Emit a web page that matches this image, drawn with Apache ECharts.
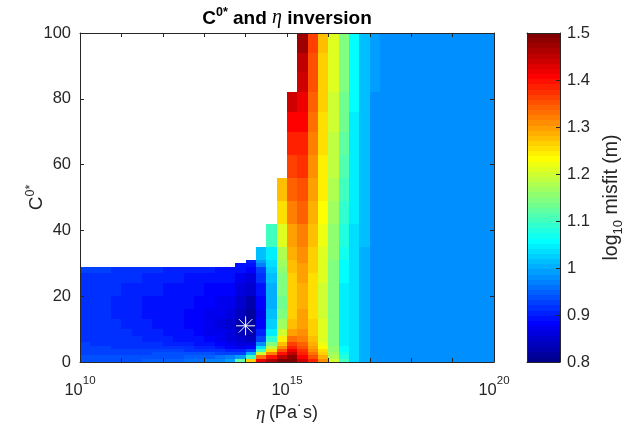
<!DOCTYPE html>
<html>
<head>
<meta charset="utf-8">
<title>C0* and eta inversion</title>
<script src="https://cdn.jsdelivr.net/npm/echarts@6/dist/echarts.min.js"></script>
<style>
  html, body { margin: 0; padding: 0; background: #ffffff; }
  #chart { width: 638px; height: 429px; }
</style>
</head>
<body>
<div id="chart"></div>
<script>
// Column edges: log10 of viscosity eta (Pa s), quarter-decade steps
const etaEdges = [
  10, 10.25, 10.5, 10.75, 11, 11.25, 11.5, 11.75, 12, 12.25, 12.5, 12.75,
  13, 13.25, 13.5, 13.75, 14, 14.25, 14.5, 14.75, 15, 15.25, 15.5, 15.75,
  16, 16.25, 16.5, 16.75, 17, 17.25, 17.5, 17.75, 18, 18.25, 18.5, 18.75,
  19, 19.25, 19.5, 19.75, 20
];

// Row edges in C0*
const cEdges = [0, 1, 2, 3, 4, 5, 6, 8, 10, 13, 16, 20, 24, 27, 29, 30, 31, 35, 42, 49, 56, 63, 70, 76, 82, 88, 94, 100];

// log10 misfit, one array per eta column, bottom row first.
// Rows past the end of an array have no admissible model (left blank).
const misfitLow = [
  [0.94, 0.935, 0.93, 0.93, 0.925, 0.925, 0.92, 0.92, 0.915, 0.915, 0.915, 0.915, 0.92, 0.925],
  [0.94, 0.935, 0.93, 0.93, 0.925, 0.92, 0.92, 0.915, 0.915, 0.912, 0.912, 0.915, 0.92, 0.925],
  [0.94, 0.935, 0.93, 0.925, 0.925, 0.92, 0.915, 0.915, 0.912, 0.91, 0.91, 0.912, 0.918, 0.922],
  [0.94, 0.935, 0.93, 0.925, 0.92, 0.92, 0.915, 0.912, 0.91, 0.908, 0.908, 0.91, 0.915, 0.92],
  [0.94, 0.935, 0.93, 0.925, 0.92, 0.915, 0.912, 0.91, 0.905, 0.905, 0.905, 0.908, 0.912, 0.918],
  [0.94, 0.935, 0.93, 0.925, 0.92, 0.915, 0.91, 0.905, 0.903, 0.9, 0.9, 0.905, 0.91, 0.915],
  [0.945, 0.94, 0.93, 0.925, 0.92, 0.912, 0.908, 0.903, 0.9, 0.898, 0.898, 0.902, 0.908, 0.912],
  [0.945, 0.94, 0.932, 0.925, 0.918, 0.91, 0.905, 0.9, 0.897, 0.895, 0.895, 0.9, 0.905, 0.91],
  [0.95, 0.94, 0.932, 0.925, 0.915, 0.908, 0.902, 0.897, 0.893, 0.892, 0.893, 0.897, 0.903, 0.908],
  [0.95, 0.942, 0.932, 0.922, 0.912, 0.905, 0.898, 0.893, 0.89, 0.89, 0.89, 0.895, 0.9, 0.906],
  [0.955, 0.945, 0.932, 0.92, 0.91, 0.9, 0.893, 0.888, 0.886, 0.886, 0.888, 0.893, 0.898, 0.904],
  [0.96, 0.948, 0.932, 0.918, 0.905, 0.895, 0.888, 0.883, 0.88, 0.882, 0.885, 0.89, 0.896, 0.902],
  [0.965, 0.95, 0.932, 0.915, 0.9, 0.89, 0.882, 0.876, 0.874, 0.876, 0.88, 0.887, 0.894, 0.9],
  [0.975, 0.955, 0.93, 0.91, 0.895, 0.883, 0.873, 0.866, 0.865, 0.868, 0.875, 0.884, 0.892, 0.898],
  [0.995, 0.965, 0.93, 0.905, 0.887, 0.873, 0.862, 0.855, 0.853, 0.858, 0.868, 0.88, 0.89, 0.896]
];

const misfitMid = [
  [1.12, 0.99, 0.93, 0.9, 0.875, 0.86, 0.845, 0.835, 0.83, 0.835, 0.845, 0.86, 0.875, 0.888, 0.895],
  [1.27, 1.1, 1.0, 0.93, 0.885, 0.86, 0.84, 0.825, 0.815, 0.82, 0.83, 0.845, 0.865, 0.88, 0.89, 0.9],
  [1.42, 1.33, 1.2, 1.1, 1.03, 0.98, 0.93, 0.9, 0.88, 0.875, 0.88, 0.895, 0.91, 0.93, 0.975, 0.99, 1.01],
  [1.46, 1.4, 1.32, 1.25, 1.19, 1.14, 1.09, 1.05, 1.025, 1.01, 1.0, 1.0, 1.01, 1.02, 1.03, 1.035, 1.05, 1.1],
  [1.49, 1.45, 1.4, 1.35, 1.31, 1.28, 1.24, 1.2, 1.17, 1.14, 1.13, 1.14, 1.15, 1.16, 1.165, 1.17, 1.18, 1.21, 1.25, 1.28],
  [1.5, 1.48, 1.45, 1.42, 1.39, 1.36, 1.33, 1.3, 1.28, 1.27, 1.265, 1.265, 1.27, 1.275, 1.28, 1.28, 1.29, 1.3, 1.32, 1.34, 1.36, 1.385, 1.41, 1.435],
  [1.44, 1.41, 1.39, 1.37, 1.35, 1.34, 1.32, 1.31, 1.3, 1.295, 1.29, 1.29, 1.295, 1.3, 1.3, 1.305, 1.31, 1.325, 1.34, 1.355, 1.37, 1.385, 1.405, 1.42, 1.44, 1.455, 1.47],
  [1.38, 1.35, 1.33, 1.31, 1.3, 1.29, 1.275, 1.265, 1.26, 1.255, 1.25, 1.25, 1.255, 1.26, 1.26, 1.262, 1.265, 1.275, 1.29, 1.3, 1.31, 1.325, 1.335, 1.345, 1.35, 1.355, 1.36],
  [1.31, 1.29, 1.265, 1.25, 1.235, 1.225, 1.215, 1.21, 1.205, 1.2, 1.2, 1.2, 1.205, 1.205, 1.21, 1.21, 1.212, 1.22, 1.23, 1.24, 1.245, 1.25, 1.255, 1.26, 1.265, 1.27, 1.275],
  [1.2, 1.18, 1.17, 1.16, 1.155, 1.15, 1.145, 1.142, 1.14, 1.14, 1.14, 1.142, 1.145, 1.148, 1.15, 1.15, 1.155, 1.16, 1.17, 1.178, 1.185, 1.19, 1.195, 1.2, 1.205, 1.21, 1.215],
  [1.1, 1.08, 1.07, 1.06, 1.055, 1.05, 1.048, 1.046, 1.045, 1.045, 1.048, 1.05, 1.055, 1.058, 1.06, 1.06, 1.065, 1.075, 1.09, 1.1, 1.11, 1.12, 1.13, 1.135, 1.14, 1.145, 1.15],
  [1.035, 1.03, 1.03, 1.03, 1.03, 1.03, 1.03, 1.03, 1.03, 1.03, 1.032, 1.033, 1.035, 1.036, 1.037, 1.037, 1.038, 1.04, 1.042, 1.045, 1.046, 1.048, 1.05, 1.052, 1.055, 1.058, 1.062],
  [1.0, 1.0, 1.0, 1.0, 1.0, 1.0, 1.0, 1.0, 1.0, 1.0, 1.0, 1.002, 1.003, 1.004, 1.005, 1.005, 1.006, 1.008, 1.008, 1.01, 1.01, 1.012, 1.014, 1.015, 1.015, 1.016, 1.017],
  [0.985, 0.985, 0.985, 0.985, 0.985, 0.985, 0.985, 0.985, 0.985, 0.985, 0.985, 0.985, 0.985, 0.985, 0.985, 0.985, 0.985, 0.985, 0.985, 0.985, 0.985, 0.985, 0.985, 0.985, 0.99, 0.99, 0.99]
];

// High-viscosity columns: misfit no longer changes with C0*
const flatColumn = [0.98, 0.98, 0.98, 0.98, 0.98, 0.98, 0.98, 0.98, 0.98, 0.98, 0.98, 0.98, 0.98, 0.98,
                    0.98, 0.98, 0.98, 0.98, 0.98, 0.98, 0.98, 0.98, 0.98, 0.98, 0.98, 0.98, 0.98];
const misfitHigh = [flatColumn, flatColumn, flatColumn, flatColumn, flatColumn, flatColumn,
                    flatColumn, flatColumn, flatColumn, flatColumn, flatColumn];

// Best-fitting model
const bestEta = 14.0;
const bestC = 11;

// Colour scale limits and ticks
const cMin = 0.8, cMax = 1.5, nColors = 64;
const yTicks = { min: 0, max: 100, step: 20 };
const xTicks = { min: 10, max: 20, step: 1, labelled: [10, 15, 20] };
const cbTicks = { min: 0.8, max: 1.5, step: 0.1 };

// ---- colour map (64-level jet) ----
function jetRGB(i) { // i: 1..64
  const u = k => (k < 1 || k > 47) ? 0 : (k <= 16 ? k / 16 : (k <= 31 ? 1 : (48 - k) / 16));
  return [u(i - 24), u(i - 8), u(i + 8)];
}
function jetColor(i) {
  const c = jetRGB(i).map(x => Math.round(x * 255));
  return 'rgb(' + c[0] + ',' + c[1] + ',' + c[2] + ')';
}
function levelOf(v) {
  const k = Math.floor((v - cMin) / (cMax - cMin) * nColors);
  return Math.max(0, Math.min(nColors - 1, k)) + 1;
}

// ---- cells ----
const columns = misfitLow.concat(misfitMid, misfitHigh);
const cells = [];
columns.forEach((col, j) => {
  col.forEach((v, b) => {
    cells.push([etaEdges[j], etaEdges[j + 1], cEdges[b], cEdges[b + 1], v]);
  });
});

const bar = [];
for (let i = 1; i <= nColors; i++) {
  const lo = cMin + (i - 1) * (cMax - cMin) / nColors;
  const hi = cMin + i * (cMax - cMin) / nColors;
  bar.push([0, 1, lo, hi, i]);
}

const AX = '#262626';
const SANS = '"Liberation Sans", Arial, Helvetica, sans-serif';
const SERIF = '"Liberation Serif", "DejaVu Serif", serif';

function rectItem(api, fill) {
  const p0 = api.coord([api.value(0), api.value(3)]);
  const p1 = api.coord([api.value(1), api.value(2)]);
  const x = Math.round(p0[0]), y = Math.round(p0[1]);
  return {
    type: 'rect',
    shape: { x: x, y: y, width: Math.round(p1[0]) - x, height: Math.round(p1[1]) - y },
    style: { fill: fill }
  };
}

const lineCommon = { show: true, onZero: false, lineStyle: { color: AX, width: 1 } };
const tickCommon = { show: true, inside: true, length: 4, lineStyle: { color: AX, width: 1 } };

const chart = echarts.init(document.getElementById('chart'), null, { renderer: 'canvas' });

chart.setOption({
  animation: false,
  backgroundColor: '#ffffff',
  textStyle: { fontFamily: SANS },
  grid: [
    { left: 80, top: 33, width: 414, height: 329 },
    { left: 527, top: 33, width: 33, height: 329 }
  ],
  graphic: [{
    type: 'text',
    x: 287, y: 17,
    style: {
      text: '{b|C}{sup|0*}{b| and }{it|η}{b| inversion}',
      textAlign: 'center',
      textVerticalAlign: 'middle',
      rich: {
        b: { fontFamily: SANS, fontWeight: 'bold', fontSize: 19, lineHeight: 22, verticalAlign: 'bottom', fill: '#000' },
        sup: { fontFamily: SANS, fontWeight: 'bold', fontSize: 12.5, lineHeight: 12, verticalAlign: 'top', fill: '#000' },
        it: { fontFamily: SERIF, fontStyle: 'italic', fontSize: 20, lineHeight: 22, verticalAlign: 'bottom', fill: '#000' }
      }
    }
  }],
  xAxis: [
    {
      gridIndex: 0, type: 'value', position: 'bottom', z: 10,
      min: xTicks.min, max: xTicks.max, interval: xTicks.step,
      axisLine: lineCommon, axisTick: tickCommon, splitLine: { show: false },
      axisLabel: {
        margin: 13,
        formatter: v => xTicks.labelled.indexOf(Math.round(v)) >= 0 ? '{b|10}{s|' + Math.round(v) + '}' : '',
        rich: {
          b: { fontFamily: SANS, fontSize: 16.5, lineHeight: 24, verticalAlign: 'bottom', color: AX },
          s: { fontFamily: SANS, fontSize: 11.5, lineHeight: 12, verticalAlign: 'top', color: AX }
        }
      },
      name: '{it|η} {b|(Pa˙s)}',
      nameLocation: 'middle', nameGap: 42, nameMoveOverlap: false,
      nameTextStyle: {
        rich: {
          it: { fontFamily: SERIF, fontStyle: 'italic', fontSize: 19, color: AX },
          b: { fontFamily: SANS, fontSize: 18, color: AX }
        }
      }
    },
    {
      gridIndex: 0, type: 'value', position: 'top', z: 10,
      min: xTicks.min, max: xTicks.max, interval: xTicks.step,
      axisLine: lineCommon, axisTick: tickCommon, axisLabel: { show: false }, splitLine: { show: false }
    },
    {
      gridIndex: 1, type: 'value', position: 'bottom', z: 10, min: 0, max: 1,
      axisLine: lineCommon, axisTick: { show: false }, axisLabel: { show: false }, splitLine: { show: false }
    },
    {
      gridIndex: 1, type: 'value', position: 'top', z: 10, min: 0, max: 1,
      axisLine: lineCommon, axisTick: { show: false }, axisLabel: { show: false }, splitLine: { show: false }
    }
  ],
  yAxis: [
    {
      gridIndex: 0, type: 'value', position: 'left', z: 10,
      min: yTicks.min, max: yTicks.max, interval: yTicks.step,
      axisLine: lineCommon, axisTick: tickCommon, splitLine: { show: false },
      axisLabel: { margin: 9, fontFamily: SANS, fontSize: 16.5, color: AX },
      name: '{b|C}{s|0*}',
      nameLocation: 'middle', nameGap: 34, nameRotate: 90, nameMoveOverlap: false,
      nameTextStyle: {
        rich: {
          b: { fontFamily: SANS, fontSize: 19, lineHeight: 22, verticalAlign: 'bottom', color: AX },
          s: { fontFamily: SANS, fontSize: 12.5, lineHeight: 12, verticalAlign: 'top', color: AX }
        }
      }
    },
    {
      gridIndex: 0, type: 'value', position: 'right', z: 10,
      min: yTicks.min, max: yTicks.max, interval: yTicks.step,
      axisLine: lineCommon, axisTick: tickCommon, axisLabel: { show: false }, splitLine: { show: false }
    },
    {
      gridIndex: 1, type: 'value', position: 'right', z: 10,
      min: cbTicks.min, max: cbTicks.max, interval: cbTicks.step,
      axisLine: lineCommon, axisTick: tickCommon, splitLine: { show: false },
      axisLabel: {
        margin: 7, fontFamily: SANS, fontSize: 16.5, color: AX,
        formatter: v => String(Math.round(v * 10) / 10)
      },
      name: '{b|log}{sub|10}{b| misfit (m)}',
      nameLocation: 'middle', nameGap: 42, nameRotate: 90, nameMoveOverlap: false,
      nameTextStyle: {
        rich: {
          b: { fontFamily: SANS, fontSize: 19.5, lineHeight: 23, verticalAlign: 'top', color: AX },
          sub: { fontFamily: SANS, fontSize: 13, lineHeight: 12, verticalAlign: 'bottom', color: AX }
        }
      }
    },
    {
      gridIndex: 1, type: 'value', position: 'left', z: 10,
      min: cbTicks.min, max: cbTicks.max,
      axisLine: lineCommon, axisTick: { show: false }, axisLabel: { show: false }, splitLine: { show: false }
    }
  ],
  series: [
    {
      type: 'custom', name: 'misfit', xAxisIndex: 0, yAxisIndex: 0,
      silent: true, clip: true, progressive: 0,
      encode: { x: [0, 1], y: [2, 3] },
      data: cells,
      renderItem: (params, api) => rectItem(api, jetColor(levelOf(api.value(4))))
    },
    {
      type: 'custom', name: 'best', xAxisIndex: 0, yAxisIndex: 0,
      silent: true, z: 5,
      data: [[bestEta, bestC]],
      renderItem: (params, api) => {
        const c = api.coord([api.value(0), api.value(1)]);
        const r = 9.5, d = r * Math.SQRT1_2;
        const st = { stroke: '#ffffff', lineWidth: 1 };
        return {
          type: 'group',
          children: [
            { type: 'line', shape: { x1: c[0] - r, y1: c[1], x2: c[0] + r, y2: c[1] }, style: st },
            { type: 'line', shape: { x1: c[0], y1: c[1] - r, x2: c[0], y2: c[1] + r }, style: st },
            { type: 'line', shape: { x1: c[0] - d, y1: c[1] - d, x2: c[0] + d, y2: c[1] + d }, style: st },
            { type: 'line', shape: { x1: c[0] - d, y1: c[1] + d, x2: c[0] + d, y2: c[1] - d }, style: st }
          ]
        };
      }
    },
    {
      type: 'custom', name: 'colorbar', xAxisIndex: 2, yAxisIndex: 2,
      silent: true, clip: true,
      encode: { x: [0, 1], y: [2, 3] },
      data: bar,
      renderItem: (params, api) => rectItem(api, jetColor(api.value(4)))
    }
  ]
});
</script>
</body>
</html>
